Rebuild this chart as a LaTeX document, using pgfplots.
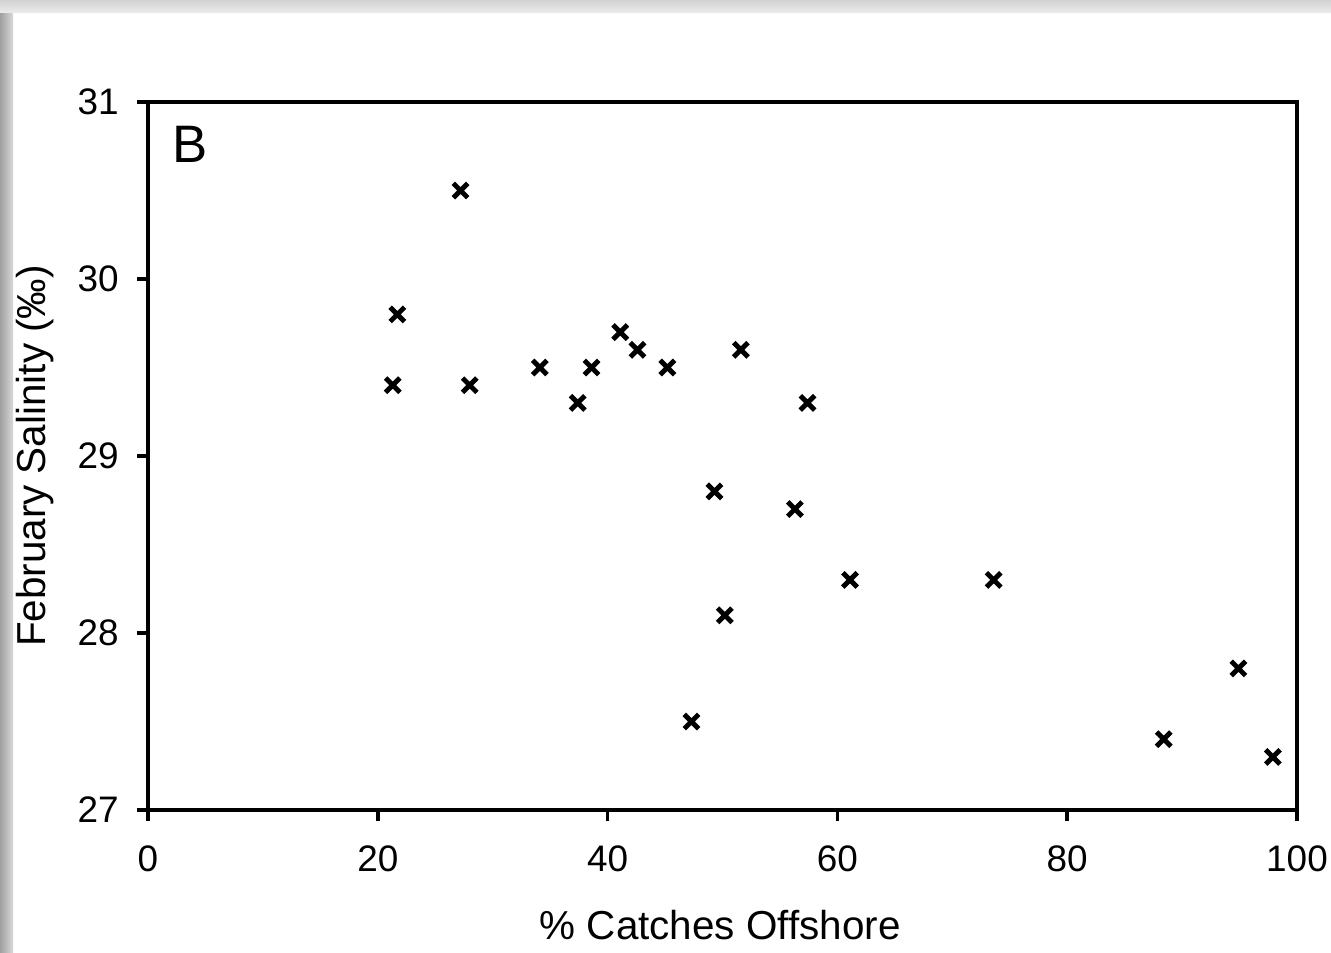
\documentclass[border=0pt]{standalone}
\usepackage{pgfplots}
\pgfplotsset{compat=1.18}
\usepackage{fontspec}
\setmainfont{Liberation Sans}
\begin{document}
\begin{tikzpicture}
\useasboundingbox (0mm,0mm) rectangle (133.1mm,95.2mm);
\fill[white] (0mm,0mm) rectangle (133.1mm,95.2mm);
\shade[left color=gray!75, right color=gray!30] (0mm,0mm) rectangle (1.3mm,95.2mm);
\shade[top color=gray!35, bottom color=gray!15] (0mm,93.9mm) rectangle (133.1mm,95.2mm);
\begin{axis}[
  at={(14.8mm,14.2mm)}, anchor=south west,
  scale only axis, width=114.9mm, height=70.8mm,
  xmin=0, xmax=100, ymin=27, ymax=31,
  xtick={0,20,40,60,80,100}, ytick={27,28,29,30,31},
  tick align=outside, major tick length=1.1mm,
  xtick pos=bottom, ytick pos=left,
  axis line style={line width=1.3pt},
  every tick/.style={black, line width=1pt},
  /pgf/number format/assume math mode=true,
  tick label style={font=\fontsize{10.5}{12}\selectfont},
  xticklabel style={yshift=-1.2mm},
  yticklabel style={xshift=-0.6mm},
  xlabel={\% Catches Offshore},
  ylabel={February Salinity (‰)},
  label style={font=\fontsize{11.5}{13}\selectfont},
  xlabel style={at={(axis description cs:0.498,-0.163)}, anchor=center},
  ylabel style={at={(axis description cs:-0.098,0.5)}, anchor=center},
  clip=false,
]
\addplot[only marks, mark=x, mark size=2.9pt, mark options={line width=1.4pt, black}] coordinates {
(21.3,29.4) (21.7,29.8) (27.2,30.5) (28.0,29.4) (34.1,29.5) (37.4,29.3)
(38.6,29.5) (41.1,29.7) (42.6,29.6) (45.2,29.5) (47.3,27.5) (49.3,28.8)
(50.2,28.1) (51.6,29.6) (56.3,28.7) (57.4,29.3) (61.1,28.3) (73.6,28.3)
(88.4,27.4) (94.9,27.8) (97.9,27.3)
};
\node[font=\fontsize{15}{17}\selectfont, anchor=center] at (axis cs:3.7,30.76) {B};
\end{axis}
\end{tikzpicture}
\end{document}
